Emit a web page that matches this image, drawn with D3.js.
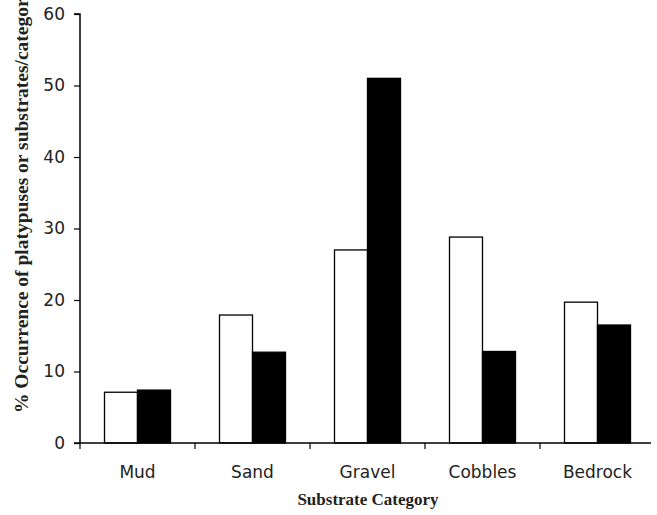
<!DOCTYPE html>
<html><head><meta charset="utf-8">
<script src="https://cdn.jsdelivr.net/npm/d3@7"></script>
<style>body{margin:0;background:#fff;}svg{display:block;}</style>
</head><body>
<script>
const categories = ["Mud","Sand","Gravel","Cobbles","Bedrock"];
const substrates = [7.1, 17.9, 27.0, 28.8, 19.7];   // white bars
const platypuses = [7.4, 12.7, 51.0, 12.8, 16.5];   // black bars
const yTicks = [0,10,20,30,40,50,60];
const yTitle = "% Occurrence of platypuses or substrates/category";
const xTitle = "Substrate Category";

const W=657,H=515;
const svg=d3.select("body").append("svg").attr("width",W).attr("height",H);
const x0=80, x1=655, yTop=14, yBot=443;
const x=d3.scaleBand().domain(categories).range([x0,x1]).paddingInner(0).paddingOuter(0);
const y=d3.scaleLinear().domain([0,60]).range([yBot,yTop]);
const barW=33;

// bars
categories.forEach((c,i)=>{
  const cx=x(c)+x.bandwidth()/2;
  svg.append("rect").attr("x",cx-barW).attr("y",y(substrates[i])).attr("width",barW)
    .attr("height",y(0)-y(substrates[i])).attr("fill","#fff").attr("stroke","#000").attr("stroke-width",1.3);
  svg.append("rect").attr("x",cx).attr("y",y(platypuses[i])).attr("width",barW)
    .attr("height",y(0)-y(platypuses[i])).attr("fill","#000").attr("stroke","#000").attr("stroke-width",1.3);
});

// y axis
const ya=svg.append("g").attr("transform",`translate(${x0},0)`)
  .call(d3.axisLeft(y).tickValues(yTicks).tickSize(6).tickPadding(9));
ya.select(".domain").attr("stroke","#000").attr("stroke-width",1.5).attr("d",`M-6,${yTop}H0V${yBot}`);
ya.selectAll(".tick line").attr("stroke-width",1.2);
ya.selectAll("text").attr("font-family","DejaVu Sans, Verdana, sans-serif").attr("font-size",17).attr("fill","#222");

// x axis
const xa=svg.append("g").attr("transform",`translate(0,${yBot})`);
xa.append("line").attr("x1",x0-6).attr("x2",x1-4).attr("y1",0).attr("y2",0).attr("stroke","#000").attr("stroke-width",1.5);
categories.forEach(c=>{
  xa.append("line").attr("x1",x(c)).attr("x2",x(c)).attr("y1",0).attr("y2",6).attr("stroke","#000").attr("stroke-width",1.2);
  xa.append("text").attr("x",x(c)+x.bandwidth()/2).attr("y",35).attr("text-anchor","middle")
    .attr("font-family","DejaVu Sans, Verdana, sans-serif").attr("font-size",17).attr("fill","#222").text(c);
});

svg.append("text").attr("x",368).attr("y",505).attr("text-anchor","middle")
  .attr("font-family","Liberation Serif, Times New Roman, serif").attr("font-weight","bold").attr("font-size",17)
  .attr("fill","#222").text(xTitle);
svg.append("text").attr("transform","translate(28,413) rotate(-90)").attr("text-anchor","start")
  .attr("font-family","Liberation Serif, Times New Roman, serif").attr("font-weight","bold").attr("font-size",19.5)
  .attr("fill","#222").text(yTitle);
</script>
</body></html>
